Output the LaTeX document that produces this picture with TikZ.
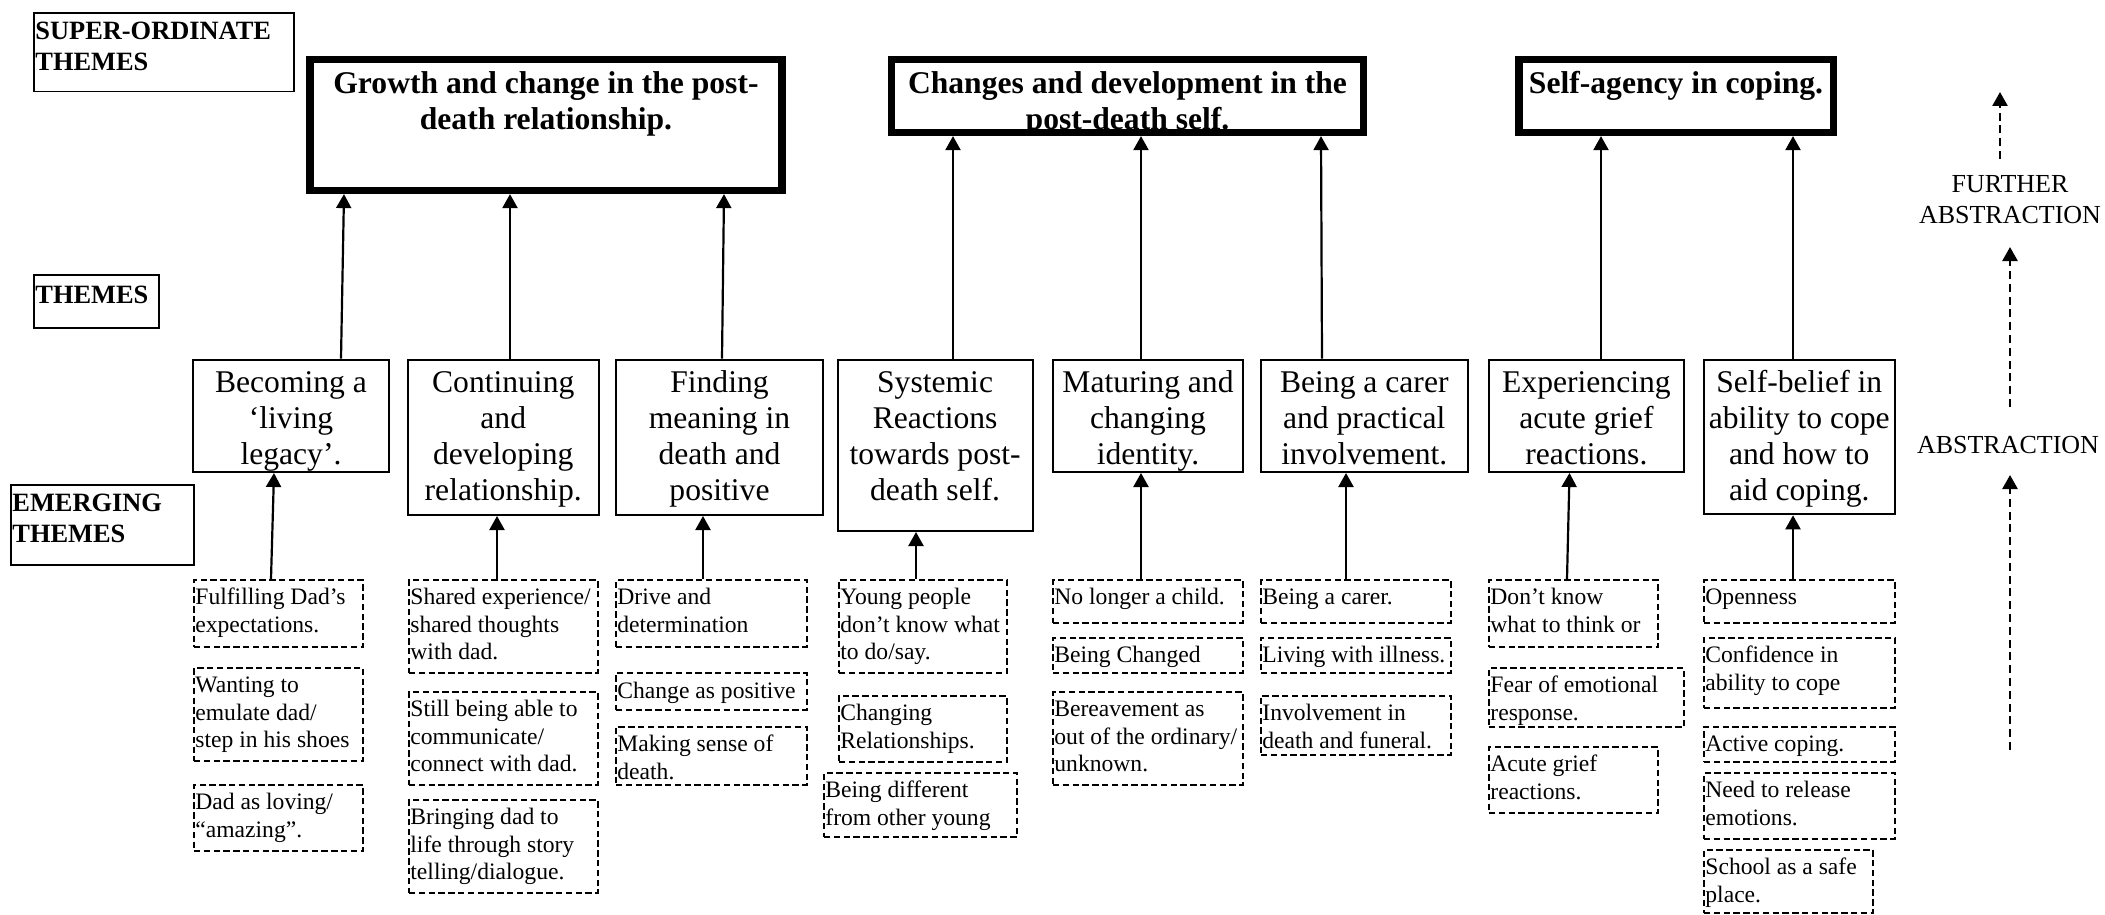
\documentclass[tikz,border=0pt]{standalone}
\usepackage{fontspec}
\setmainfont{Liberation Serif}
\usetikzlibrary{arrows.meta,fit,calc}
\begin{document}
\begin{tikzpicture}[x=0.5pt,y=-0.5pt,
  sbox/.style={draw, line width=3.6pt, inner sep=0pt},
  tbox/.style={draw, line width=1pt, inner sep=0pt},
  ebox/.style={draw, line width=1pt, dash pattern=on 3.2pt off 1.7pt, inner sep=0pt},
  lbox/.style={draw, line width=0.8pt, inner sep=0pt},
  stext/.style={font=\fontsize{15.8}{17.7}\selectfont\bfseries, align=center, anchor=north, inner sep=0pt},
  ttext/.style={font=\fontsize{15.8}{18}\selectfont, align=center, anchor=north, inner sep=0pt},
  etext/.style={font=\fontsize{11.8}{13.75}\selectfont, align=left, anchor=north west, inner sep=0pt},
  ltext/.style={font=\fontsize{13.2}{15.5}\selectfont\bfseries, align=left, anchor=north west, inner sep=0pt},
  atext/.style={font=\fontsize{13}{15.5}\selectfont, align=center, anchor=north, inner sep=0pt},
  arr/.style={line width=1.1pt, -{Triangle[length=7pt,width=7.5pt]}},
  darr/.style={line width=1.3pt, dash pattern=on 4pt off 2.4pt, -{Triangle[length=7pt,width=7.5pt]}},
]
\useasboundingbox (0,0) rectangle (2105,915);

% left labels
\node[lbox, fit={(33.7,12.9) (294,91.4)}] (lsup) {};
\node[ltext] (lsupt) at (35,17) {\strut SUPER-ORDINATE\\THEMES};
\node[lbox, fit={(33.7,275) (159,328)}] (lthm) {};
\node[ltext] (lthmt) at (35,281.3) {\strut THEMES};
\node[lbox, fit={(11.2,485) (194,565)}] (lem) {};
\node[ltext] (lemt) at (12,489) {\strut EMERGING\\THEMES};

% super-ordinate themes
\node[stext] (s1t) at (546,68.8) {\strut Growth and change in the post-\\death relationship.};
\node[stext] (s2t) at (1127.5,68.8) {\strut Changes and development in the\\post-death self.};
\node[stext] (s3t) at (1676,68.8) {\strut Self-agency in coping.};
\node[sbox, fit={(310,59.5) (782,190.5)}] (s1) {};
\node[sbox, fit={(891.5,59.5) (1363.5,132.5)}] (s2) {};
\node[sbox, fit={(1519,59.5) (1833.5,132.5)}] (s3) {};

% themes
\node[tbox, fit={(193,359.6) (389,472)}] (t1) {};
\node[tbox, fit={(408,359.6) (598.5,515)}] (t2) {};
\node[tbox, fit={(616,359.6) (823,515)}] (t3) {};
\node[tbox, fit={(837.7,359.6) (1032.5,531)}] (t4) {};
\node[tbox, fit={(1053,359.6) (1243,472)}] (t5) {};
\node[tbox, fit={(1260.6,359.6) (1468,472)}] (t6) {};
\node[tbox, fit={(1489,359.6) (1683.8,472)}] (t7) {};
\node[tbox, fit={(1704,359.6) (1894.6,514.3)}] (t8) {};
\node[ttext] (t1t) at ($(t1.north)+(0,8)$) {\strut Becoming a\\‘living\\legacy’.};
\node[ttext] (t2t) at ($(t2.north)+(0,8)$) {\strut Continuing\\and\\developing\\relationship.};
\node[ttext] (t3t) at ($(t3.north)+(0,8)$) {\strut Finding\\meaning in\\death and\\positive};
\node[ttext] (t4t) at ($(t4.north)+(0,8)$) {\strut Systemic\\Reactions\\towards post-\\death self.};
\node[ttext] (t5t) at ($(t5.north)+(0,8)$) {\strut Maturing and\\changing\\identity.};
\node[ttext] (t6t) at ($(t6.north)+(0,8)$) {\strut Being a carer\\and practical\\involvement.};
\node[ttext] (t7t) at ($(t7.north)+(0,8)$) {\strut Experiencing\\acute grief\\reactions.};
\node[ttext] (t8t) at ($(t8.north)+(0,8)$) {\strut Self-belief in\\ability to cope\\and how to\\aid coping.};

% emerging themes
\node[ebox, fit={(194,580) (363,647)}] (e11) {};
\node[ebox, fit={(194,668) (363,761)}] (e12) {};
\node[ebox, fit={(194,785) (363,851)}] (e13) {};
\node[ebox, fit={(409,580) (598,673)}] (e21) {};
\node[ebox, fit={(409,692) (598,785)}] (e22) {};
\node[ebox, fit={(409,800) (598,893)}] (e23) {};
\node[ebox, fit={(616,580) (807,647)}] (e31) {};
\node[ebox, fit={(616,673) (807,710)}] (e32) {};
\node[ebox, fit={(616,727) (807,785)}] (e33) {};
\node[ebox, fit={(839,580) (1007,673)}] (e41) {};
\node[ebox, fit={(839,696) (1007,762)}] (e42) {};
\node[ebox, fit={(824,773) (1017,837)}] (e43) {};
\node[ebox, fit={(1053,580) (1243,623)}] (e51) {};
\node[ebox, fit={(1053,638) (1243,673)}] (e52) {};
\node[ebox, fit={(1053,692) (1243,785)}] (e53) {};
\node[ebox, fit={(1261,580) (1451,623)}] (e61) {};
\node[ebox, fit={(1261,638) (1451,673)}] (e62) {};
\node[ebox, fit={(1261,696) (1451,755)}] (e63) {};
\node[ebox, fit={(1489,580) (1658,647)}] (e71) {};
\node[ebox, fit={(1489,668) (1684,727)}] (e72) {};
\node[ebox, fit={(1489,747) (1658,813)}] (e73) {};
\node[ebox, fit={(1704,580) (1895,623)}] (e81) {};
\node[ebox, fit={(1704,638) (1895,708)}] (e82) {};
\node[ebox, fit={(1704,727) (1895,762)}] (e83) {};
\node[ebox, fit={(1704,773) (1895,839)}] (e84) {};
\node[ebox, fit={(1704,850) (1873,913)}] (e85) {};

\node[etext] (e11t) at ($(e11.north west)+(2,6)$) {\strut Fulfilling Dad’s\\expectations.};
\node[etext] (e12t) at ($(e12.north west)+(2,6)$) {\strut Wanting to\\emulate dad/\\step in his shoes};
\node[etext] (e13t) at ($(e13.north west)+(2,6)$) {\strut Dad as loving/\\“amazing”.};
\node[etext] (e21t) at ($(e21.north west)+(2,6)$) {\strut Shared experience/\\shared thoughts\\with dad.};
\node[etext] (e22t) at ($(e22.north west)+(2,6)$) {\strut Still being able to\\communicate/\\connect with dad.};
\node[etext] (e23t) at ($(e23.north west)+(2,6)$) {\strut Bringing dad to\\life through story\\telling/dialogue.};
\node[etext] (e31t) at ($(e31.north west)+(2,6)$) {\strut Drive and\\determination};
\node[etext] (e32t) at ($(e32.north west)+(2,7)$) {\strut Change as positive};
\node[etext] (e33t) at ($(e33.north west)+(2,6)$) {\strut Making sense of\\death.};
\node[etext] (e41t) at ($(e41.north west)+(2,6)$) {\strut Young people\\don’t know what\\to do/say.};
\node[etext] (e42t) at ($(e42.north west)+(2,6)$) {\strut Changing\\Relationships.};
\node[etext] (e43t) at ($(e43.north west)+(2,6)$) {\strut Being different\\from other young};
\node[etext] (e51t) at ($(e51.north west)+(2,6)$) {\strut No longer a child.};
\node[etext] (e52t) at ($(e52.north west)+(2,6)$) {\strut Being Changed};
\node[etext] (e53t) at ($(e53.north west)+(2,6)$) {\strut Bereavement as\\out of the ordinary/\\unknown.};
\node[etext] (e61t) at ($(e61.north west)+(2,6)$) {\strut Being a carer.};
\node[etext] (e62t) at ($(e62.north west)+(2,6)$) {\strut Living with illness.};
\node[etext] (e63t) at ($(e63.north west)+(2,6)$) {\strut Involvement in\\death and funeral.};
\node[etext] (e71t) at ($(e71.north west)+(2,6)$) {\strut Don’t know\\what to think or};
\node[etext] (e72t) at ($(e72.north west)+(2,6)$) {\strut Fear of emotional\\response.};
\node[etext] (e73t) at ($(e73.north west)+(2,6)$) {\strut Acute grief\\reactions.};
\node[etext] (e81t) at ($(e81.north west)+(2,6)$) {\strut Openness};
\node[etext] (e82t) at ($(e82.north west)+(2,6)$) {\strut Confidence in\\ability to cope};
\node[etext] (e83t) at ($(e83.north west)+(2,6)$) {\strut Active coping.};
\node[etext] (e84t) at ($(e84.north west)+(2,6)$) {\strut Need to release\\emotions.};
\node[etext] (e85t) at ($(e85.north west)+(2,6)$) {\strut School as a safe\\place.};

% arrows: themes -> super-ordinate
\draw[arr] (t1.north -| 341,0) -- (s1.south -| 344,0);
\draw[arr] (t2.north -| 510,0) -- (s1.south -| 510,0);
\draw[arr] (t3.north -| 722,0) -- (s1.south -| 724,0);
\draw[arr] (t4.north -| 953,0) -- (s2.south -| 953,0);
\draw[arr] (t5.north -| 1141,0) -- (s2.south -| 1141,0);
\draw[arr] (t6.north -| 1322,0) -- (s2.south -| 1321,0);
\draw[arr] (t7.north -| 1601,0) -- (s3.south -| 1601,0);
\draw[arr] (t8.north -| 1793,0) -- (s3.south -| 1793,0);

% arrows: emerging -> themes
\draw[arr] (e11.north -| 271,0) -- (t1.south -| 274,0);
\draw[arr] (e21.north -| 497,0) -- (t2.south -| 497,0);
\draw[arr] (e31.north -| 703,0) -- (t3.south -| 703,0);
\draw[arr] (e41.north -| 916,0) -- (t4.south -| 916,0);
\draw[arr] (e51.north -| 1141,0) -- (t5.south -| 1141,0);
\draw[arr] (e61.north -| 1346,0) -- (t6.south -| 1346,0);
\draw[arr] (e71.north -| 1567,0) -- (t7.south -| 1569.5,0);
\draw[arr] (e81.north -| 1793,0) -- (t8.south -| 1793,0);

% abstraction scale
\node[atext] (fa) at (2010,170.3) {\strut FURTHER\\ABSTRACTION};
\node[atext] (ab) at (2008,431.3) {\strut ABSTRACTION};
\coordinate (a1s) at (2000,159);
\coordinate (a1e) at (2000,92);
\coordinate (a2s) at (2010,407);
\coordinate (a2e) at (2010,247);
\coordinate (a3s) at (2010,750);
\coordinate (a3e) at (2010,475);
\draw[darr] (a1s) -- (a1e);
\draw[darr] (a2s) -- (a2e);
\draw[darr] (a3s) -- (a3e);
\end{tikzpicture}
\end{document}
